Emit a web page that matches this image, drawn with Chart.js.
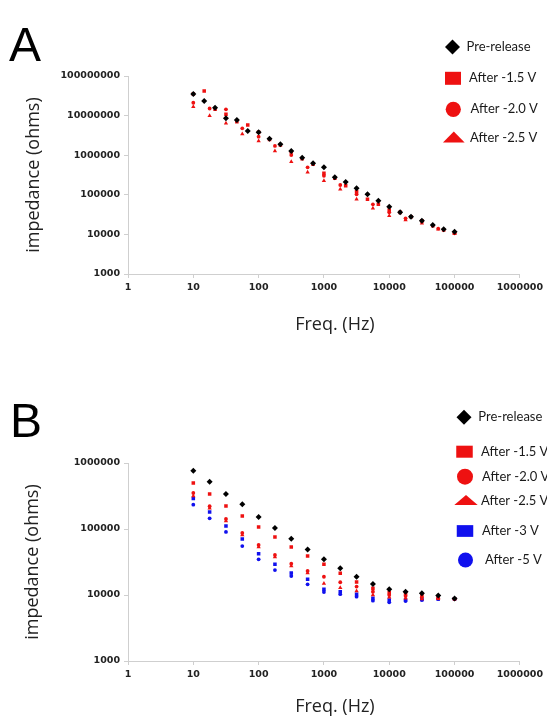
<!DOCTYPE html>
<html><head><meta charset="utf-8">
<script src="https://cdn.jsdelivr.net/npm/chart.js@4.4.1/dist/chart.umd.min.js"></script>
<style>
html,body{margin:0;padding:0;background:#fff;width:547px;height:719px;overflow:hidden;}
.panel{position:absolute;left:0;}
.letter{position:absolute;font-family:"Liberation Sans",Arial,sans-serif;font-size:48px;color:#000;line-height:1;z-index:2;}
</style></head><body>
<div class="letter" style="left:9px;top:21px">A</div>
<div class="letter" style="left:10px;top:397px">B</div>
<div class="panel" style="top:0"><canvas id="cA" width="547" height="360"></canvas></div>
<div class="panel" style="top:360px"><canvas id="cB" width="547" height="365"></canvas></div>
<script>
// ---- data ----
const xTickValues = [1, 10, 100, 1000, 10000, 100000, 1000000];
const yTickValuesA = [1000, 10000, 100000, 1000000, 10000000, 100000000];
const yTickValuesB = [1000, 10000, 100000, 1000000];

// panel A frequencies (Hz)
const freqA6 = [10, 14.68, 21.54, 31.62, 46.42, 68.13, 100, 146.8, 215.4, 316.2, 464.2, 681.3, 1000, 1468, 2154, 3162, 4642, 6813, 10000, 14678, 21544, 31623, 46416, 68129, 100000];
const freqA4 = [10, 17.78, 31.62, 56.23, 100, 177.8, 316.2, 562.3, 1000, 1778, 3162, 5623, 10000, 17783, 31623, 56234, 100000];
// panel B frequencies (Hz)
const freqB = [10, 17.78, 31.62, 56.23, 100, 177.8, 316.2, 562.3, 1000, 1778, 3162, 5623, 10000, 17783, 31623, 56234, 100000];

// panel A impedance (ohms)
const preA  = [35000000, 23400000, 15800000, 8550000, 7740000, 4080000, 3780000, 2610000, 1880000, 1280000, 865000, 624000, 494000, 277000, 211000, 146000, 103000, 71000, 50000, 36100, 28000, 22200, 17300, 13400, 11700];
const m15A  = [35000000, 41800000, 14400000, 10800000, 7000000, 5800000, 3780000, 2500000, 1800000, 1200000, 810000, 590000, 349000, 261000, 170000, 120000, 77000, 57500, 41300, 36000, 28000, 22000, 16600, 12900, 10700];
const m20A  = [21100000, 15100000, 14400000, 4780000, 2930000, 1710000, 1010000, 494000, 303000, 177000, 103000, 57500, 36100, 25500, 21500, 14000, 10700];
const m25A  = [16800000, 9900000, 6400000, 3430000, 2280000, 1280000, 686000, 370000, 227000, 138000, 77000, 45600, 29700, 23100, 19000, 13500, 10500];

// panel B impedance (ohms)
const preB = [764000, 521000, 339000, 237000, 152000, 103500, 71300, 48900, 34700, 25400, 18900, 14700, 12200, 11200, 10600, 9820, 8850];
const m15B = [498000, 339000, 223000, 157000, 107000, 75600, 53400, 39000, 29200, 21300, 15700, 12600, 10800, 10400, 10000, 9420, 8790];
const m20B = [351000, 221000, 142000, 86900, 57200, 40400, 29800, 23100, 18900, 15600, 13400, 11200, 10000, 9660, 9230, 8910, 8700];
const m25B = [316000, 206000, 132000, 81100, 53400, 37600, 27500, 21500, 15000, 12900, 11500, 10000, 9230, 8910, 8700, 8790, 8760];
const m3B  = [290000, 181000, 111000, 70500, 42300, 29200, 21500, 17300, 12200, 11200, 10300, 8910, 8400, 8400, 8550, 8700, 8700];
const m5B  = [234000, 145000, 90200, 55200, 34700, 23900, 19400, 14500, 11100, 10300, 9420, 8200, 7750, 8110, 8400, 8700, 8700];

const seriesNames = ['Pre-release', 'After -1.5 V', 'After -2.0 V', 'After -2.5 V', 'After -3 V', 'After -5 V'];

// ---- styling ----
const BLACK = '#000000', RED = '#ee1111', BLUE = '#1010ee';
const styles = [
  {color: BLACK, pointStyle: 'rectRot', radius: 3},
  {color: RED, pointStyle: 'rect', radius: 2.5},
  {color: RED, pointStyle: 'circle', radius: 1.9},
  {color: RED, pointStyle: 'triangle', radius: 2.5},
  {color: BLUE, pointStyle: 'rect', radius: 2.5},
  {color: BLUE, pointStyle: 'circle', radius: 1.9}
];

function pts(xs, ys) { return xs.map((x, i) => ({x: x, y: ys[i]})); }
function ds(i, xs, ys) {
  const s = styles[i];
  return {
    label: seriesNames[i], data: pts(xs, ys), showLine: false,
    pointStyle: s.pointStyle, pointRadius: s.radius, pointHoverRadius: s.radius,
    backgroundColor: s.color, borderColor: s.color, pointBorderWidth: 0
  };
}

// side legend + x-axis title (title is centred a little right of the plot, as in the original)
const sideLegend = {
  id: 'sideLegend',
  afterDraw(chart, args, opts) {
    const ctx = chart.ctx;
    const H = Chart.helpers;
    ctx.save();
    (opts.items || []).forEach((it, i) => {
      const d = chart.data.datasets[i];
      ctx.fillStyle = d.backgroundColor; ctx.strokeStyle = d.borderColor;
      const o = {pointStyle: d.pointStyle, radius: it.r, rotation: 0, borderWidth: 0};
      if (H.drawPointLegend) H.drawPointLegend(ctx, o, it.mx, it.my, it.w); else H.drawPoint(ctx, o, it.mx, it.my);
      ctx.fillStyle = '#1a1a1a';
      ctx.font = '13px Lato';
      ctx.textAlign = 'left'; ctx.textBaseline = 'middle';
      ctx.fillText(d.label, it.tx, it.ty);
    });
    if (opts.xTitle) {
      const a = chart.chartArea;
      ctx.fillStyle = '#222';
      ctx.font = '18px "Open Sans"';
      ctx.textAlign = 'center'; ctx.textBaseline = 'middle';
      ctx.fillText(opts.xTitle, (a.left + a.right) / 2 + opts.xShift, a.bottom + opts.xDrop);
    }
    ctx.restore();
  }
};

const tickFont = {family: 'DejaVu Sans', weight: 'bold', size: 9.5};
const titleFont = {family: 'Open Sans', size: 18};

function makeChart(id, datasets, yTicks, yMin, yMax, pad, xH, yTitlePad, xDrop, legendItems) {
  return new Chart(document.getElementById(id), {
    type: 'scatter',
    data: {datasets: datasets},
    plugins: [sideLegend],
    options: {
      responsive: false, animation: false, events: [],
      layout: {padding: pad},
      plugins: {legend: {display: false}, tooltip: {enabled: false},
        sideLegend: {items: legendItems, xTitle: 'Freq. (Hz)', xShift: 11, xDrop: xDrop}},
      scales: {
        x: {
          type: 'logarithmic', min: 1, max: 1000000,
          afterBuildTicks: s => { s.ticks = xTickValues.map(v => ({value: v})); },
          afterFit: s => { s.height = xH; },
          ticks: {callback: v => String(v), font: tickFont, color: '#222', padding: 4, maxRotation: 0, autoSkip: false},
          grid: {drawOnChartArea: false, drawTicks: true, tickLength: 4, color: '#cfcfcf'},
          border: {color: '#cfcfcf'}
        },
        y: {
          type: 'logarithmic', min: yMin, max: yMax,
          afterBuildTicks: s => { s.ticks = yTicks.map(v => ({value: v})); },
          afterFit: s => { s.width = 128; },
          ticks: {callback: v => String(v), font: tickFont, color: '#222', padding: 4, autoSkip: false},
          grid: {drawOnChartArea: false, drawTicks: true, tickLength: 4, color: '#cfcfcf'},
          border: {color: '#cfcfcf'},
          title: {display: true, text: 'impedance (ohms)', font: titleFont, color: '#222', padding: yTitlePad}
        }
      }
    }
  });
}

makeChart('cA',
  [ds(0, freqA6, preA), ds(1, freqA6, m15A), ds(2, freqA4, m20A), ds(3, freqA4, m25A)],
  yTickValuesA, 1000, 100000000,
  {top: 76, right: 26, bottom: 25, left: 0}, 61, {top: 23, bottom: 0}, 51,
  [
    {mx: 452.5, my: 47, r: 7.5, tx: 466.5, ty: 47},
    {mx: 453, my: 78.3, r: 9.2, w: 16, tx: 469, ty: 78.3},
    {mx: 453.3, my: 109.3, r: 7.6, tx: 470.5, ty: 109.3},
    {mx: 453.8, my: 138.8, r: 7.3, w: 25, tx: 470, ty: 137.5}
  ]);

makeChart('cB',
  [ds(0, freqB, preB), ds(1, freqB, m15B), ds(2, freqB, m20B), ds(3, freqB, m25B), ds(4, freqB, m3B), ds(5, freqB, m5B)],
  yTickValuesB, 1000, 1000000,
  {top: 103, right: 26, bottom: 3, left: 0}, 61, {top: 22, bottom: 0}, 46,
  [
    {mx: 464, my: 57.3, r: 7.5, tx: 478.3, ty: 57.3},
    {mx: 464.5, my: 91.7, r: 8.5, w: 16.5, tx: 481, ty: 91.7},
    {mx: 465, my: 116.7, r: 8, tx: 482, ty: 116.7},
    {mx: 466, my: 141.7, r: 6.8, w: 27, tx: 481, ty: 140.5},
    {mx: 465, my: 171, r: 8.3, w: 16.5, tx: 482, ty: 171},
    {mx: 465.5, my: 200, r: 7.5, tx: 485, ty: 200}
  ]);
</script>
</body></html>
